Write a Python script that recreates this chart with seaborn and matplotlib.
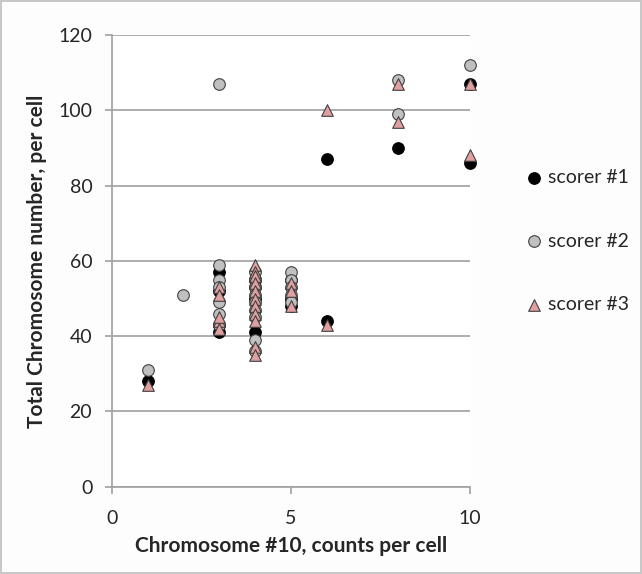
import pandas as pd
import matplotlib.pyplot as plt
import seaborn as sns

# values: (chromosome #10 count, total chromosome number)
s1_x = [1, 3, 3, 3, 3, 4, 4, 4, 4, 5, 5, 5, 6, 6, 8, 10, 10]
s1_y = [28, 41, 43, 52, 57, 41, 50, 55, 53, 48, 50, 55, 44, 87, 90, 107, 86]

s2_x = [1, 2, 3, 3, 3, 3, 3, 3, 3, 4, 4, 4, 4, 4, 4, 4, 4, 4, 5, 5, 5, 5, 5, 8, 8, 10]
s2_y = [31, 51, 107, 59, 55, 49, 46, 43, 53, 57, 55, 53, 51, 49, 47, 45, 39, 36,
        57, 55, 53, 51, 49, 108, 99, 112]

s3_x = [1, 3, 3, 3, 3, 3, 4, 4, 4, 4, 4, 4, 4, 4, 4, 4, 4, 5, 5, 5, 6, 6, 8, 8, 10, 10]
s3_y = [27, 53, 51, 44, 42, 45, 59, 57, 56, 54, 52, 50, 48, 46, 44, 37, 35,
        54, 52, 48, 43, 100, 107, 97, 107, 88]

scorers = ["scorer #1", "scorer #2", "scorer #3"]

df = pd.concat([
    pd.DataFrame({"x": s1_x, "y": s1_y, "scorer": scorers[0]}),
    pd.DataFrame({"x": s2_x, "y": s2_y, "scorer": scorers[1]}),
    pd.DataFrame({"x": s3_x, "y": s3_y, "scorer": scorers[2]}),
], ignore_index=True)

sns.set_style("white")
plt.rcParams["font.family"] = ["Lato", "DejaVu Sans"]

fig = plt.figure(figsize=(6.42, 5.74), dpi=100)
fig.patch.set_edgecolor("#c8c8c8")
fig.patch.set_linewidth(1.5)
ax = fig.add_axes([0.174, 0.152, 0.558, 0.787])

palette = {"scorer #1": "#000000", "scorer #2": "#c0c0c0", "scorer #3": "#e0a0a0"}
markers = {"scorer #1": "o", "scorer #2": "o", "scorer #3": "^"}

for name in scorers:
    sub = df[df["scorer"] == name]
    sns.scatterplot(data=sub, x="x", y="y", color=palette[name], marker=markers[name],
                    s=70, edgecolor="#000000" if name == "scorer #1" else "#404040",
                    linewidth=0.8, label=name, ax=ax, zorder=3, clip_on=False)

ax.set_xlim(0, 10)
ax.set_ylim(0, 120)
ax.set_xticks([0, 5, 10])
ax.set_yticks(range(0, 121, 20))
ax.yaxis.grid(True, color="#a0a0a0", linewidth=1.2)
ax.set_axisbelow(True)
for side in ["top", "right"]:
    ax.spines[side].set_visible(False)
for side in ["left", "bottom"]:
    ax.spines[side].set_color("#a0a0a0")
    ax.spines[side].set_linewidth(1.2)
ax.tick_params(axis="both", direction="out", length=5, width=1.2, color="#a0a0a0",
               labelsize=14)
ax.tick_params(axis="x", bottom=True, pad=12)
ax.tick_params(axis="y", left=True, pad=9)
ax.set_xlabel("Chromosome #10, counts per cell", fontsize=15, fontweight="bold", labelpad=6)
ax.set_ylabel("Total Chromosome number, per cell", fontsize=15, fontweight="bold", labelpad=8)

ax.legend(loc="center left", bbox_to_anchor=(0.805, 0.58), bbox_transform=fig.transFigure,
          frameon=False, fontsize=14, labelspacing=2.4, handletextpad=0.2,
          handlelength=1.0, borderaxespad=0)

fig.savefig("out.png", dpi=100, facecolor="#fdfdfd")
